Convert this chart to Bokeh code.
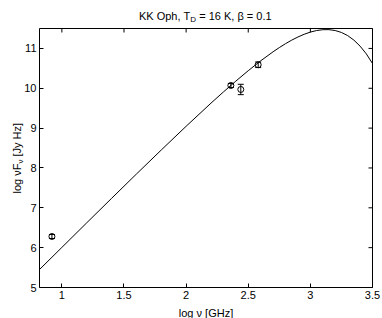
import math
from bokeh.plotting import figure
from bokeh.models import (Range1d, FixedTicker, Label, Whisker,
                          ColumnDataSource, TeeHead)
from bokeh.embed import file_html
from bokeh.resources import INLINE

# ---- data ----
model_x = [0.82, 1.0, 1.2, 1.4, 1.6, 1.8, 2.0, 2.2, 2.3, 2.4, 2.5, 2.6, 2.7,
           2.75, 2.8, 2.85, 2.9, 2.95, 3.0, 3.05, 3.1, 3.15, 3.2, 3.25, 3.3,
           3.35, 3.4, 3.45, 3.5]
model_y = [5.451, 6.006, 6.623, 7.237, 7.847, 8.451, 9.046, 9.626, 9.907,
           10.179, 10.441, 10.688, 10.916, 11.021, 11.119, 11.208, 11.287,
           11.355, 11.410, 11.449, 11.470, 11.471, 11.449, 11.401, 11.322,
           11.209, 11.058, 10.864, 10.621]

obs_x = [0.92, 2.36, 2.44, 2.58]
obs_y = [6.28, 10.07, 9.97, 10.59]
obs_err = [0.05, 0.05, 0.13, 0.07]

x_ticks = [1, 1.5, 2, 2.5, 3, 3.5]
x_tick_labels = ["1", "1.5", "2", "2.5", "3", "3.5"]
y_ticks = [5, 6, 7, 8, 9, 10, 11]
y_tick_labels = ["5", "6", "7", "8", "9", "10", "11"]

FONT = "Liberation Sans"
X0, X1 = 0.82, 3.5          # data limits of the axes box
Y0, Y1 = 5.0, 11.5
W, H = 382, 318             # canvas
BL, BR, BT, BB = 39, 10, 28, 31   # space around the axes box (px)
BW, BH = W - BL - BR, H - BT - BB
TICK = 4

ux = (X1 - X0) / BW
uy = (Y1 - Y0) / BH

# the frame fills the canvas; the axes box sits inside it
p = figure(width=W, height=H, output_backend="svg", toolbar_location=None,
           x_range=Range1d(X0 - BL * ux, X1 + BR * ux),
           y_range=Range1d(Y0 - BB * uy, Y1 + BT * uy),
           min_border=0)
p.title.visible = False
p.background_fill_color = "white"
p.border_fill_color = "white"
p.outline_line_color = None
p.xgrid.visible = False
p.ygrid.visible = False

p.xaxis[0].fixed_location = Y0
p.yaxis[0].fixed_location = X0
for ax, ticks, labels in ((p.xaxis[0], x_ticks, x_tick_labels),
                          (p.yaxis[0], y_ticks, y_tick_labels)):
    ax.ticker = FixedTicker(ticks=ticks)
    ax.major_label_overrides = {t: l for t, l in zip(ticks, labels)}
    ax.major_tick_in = TICK
    ax.major_tick_out = 0
    ax.minor_tick_in = 0
    ax.minor_tick_out = 0
    ax.axis_line_color = None
    ax.major_tick_line_color = "black"
    ax.major_label_text_font = FONT
    ax.major_label_text_font_size = "11px"
    ax.major_label_text_color = "black"
    ax.major_label_standoff = 3

# axes box
p.quad(left=[X0], right=[X1], bottom=[Y0], top=[Y1], fill_color=None,
       line_color="black", line_width=1)

# mirrored tick marks on top and right edges (from the tick lists)
p.segment(x0=x_ticks, y0=[Y1] * len(x_ticks), x1=x_ticks,
          y1=[Y1 - TICK * uy] * len(x_ticks), line_color="black", line_width=1)
p.segment(x0=[X1] * len(y_ticks), y0=y_ticks,
          x1=[X1 - TICK * ux] * len(y_ticks), y1=y_ticks,
          line_color="black", line_width=1)

# model curve
p.line(model_x, model_y, line_color="black", line_width=1)

# observations with error bars
src = ColumnDataSource(dict(x=obs_x, y=obs_y,
                            lo=[y - e for y, e in zip(obs_y, obs_err)],
                            hi=[y + e for y, e in zip(obs_y, obs_err)]))
wh = Whisker(source=src, base="x", lower="lo", upper="hi",
             line_color="black", line_width=1,
             upper_head=TeeHead(size=6, line_color="black", line_width=1),
             lower_head=TeeHead(size=6, line_color="black", line_width=1))
p.add_layout(wh)
p.scatter("x", "y", source=src, marker="circle", size=6,
          fill_color=None, line_color="black", line_width=1)


def lab(x, y, text, align, size, angle=0.0):
    # x, y: pixels from the canvas' left / top edge
    p.add_layout(Label(x=x, y=H - y, x_units="screen", y_units="screen",
                       text=text, text_align=align, text_baseline="alphabetic",
                       angle=angle, text_font=FONT, text_font_size=size,
                       text_color="black"))


# title with subscript
lab(189.8, 15.7, "KK Oph, T", "right", "11px")
lab(189.8, 18.5, "D", "left", "8px")
lab(198.7, 15.7, "= 16 K, β = 0.1", "left", "11px")

# x-axis label
lab(BL + BW / 2, 312, "log ν [GHz]", "center", "11px")

# y-axis label with subscript (rotated)
ang = math.pi / 2
lab(16.5, 163, "log νF", "right", "11px", ang)
lab(20, 163, "ν", "left", "8px", ang)
lab(16.5, 156, "[Jy Hz]", "left", "11px", ang)

open("out.html", "w").write(file_html(p, INLINE))
